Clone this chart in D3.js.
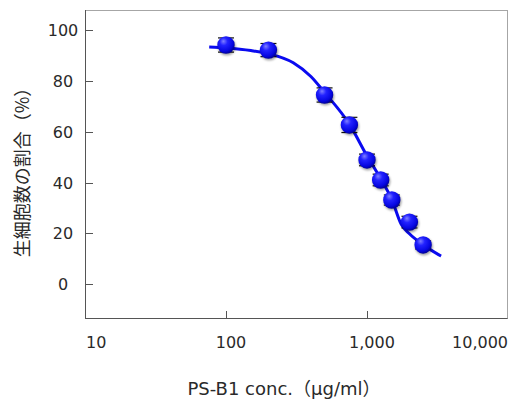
<!DOCTYPE html>
<html>
<head>
<meta charset="utf-8">
<script src="https://cdn.jsdelivr.net/npm/d3@7"></script>
<style>
  body { margin: 0; background: #fff; }
  svg { display: block; }
  .tick-label { font-family: "DejaVu Sans", Verdana, sans-serif; font-size: 16px; fill: #2a2a2a; }
</style>
</head>
<body>
<script>
//cell viability vs PS-B1 concentration (log x axis)

//measured points
var conc = [100, 200, 500, 750, 1000, 1250, 1500, 2000, 2500];
var viability = [94.2, 92.2, 74.5, 62.7, 48.9, 41.0, 33.1, 24.4, 15.4];
var errors = [2.8, 2.6, 2.8, 3.0, 2.3, 2.3, 2.0, 2.3, 1.6];

//fitted curve
var curveConc = [76, 100, 150, 200, 300, 400, 500, 750, 1000, 1250, 1500, 1750, 2000, 2500, 3350];
var curveVal = [93.4, 93.0, 92.0, 90.8, 87.2, 81.8, 75.5, 63.0, 50.5, 41.5, 33.3, 23.5, 19.8, 15.5, 11.0];

//axis ticks
var xTicks = [10, 100, 1000, 10000];
var xTickLabels = ["10", "100", "1,000", "10,000"];
var yTicks = [0, 20, 40, 60, 80, 100];

var w = 515, h = 400;

var svg = d3.select("body")
    .append("svg")
    .attr("width", w)
    .attr("height", h);

var defs = svg.append("defs");

//shiny sphere look for the markers
var grad = defs.append("radialGradient")
    .attr("id", "ball")
    .attr("cx", "40%")
    .attr("cy", "35%")
    .attr("r", "65%")
    .attr("fx", "35%")
    .attr("fy", "28%");
grad.append("stop").attr("offset", "0%").attr("stop-color", "#7f7fff");
grad.append("stop").attr("offset", "35%").attr("stop-color", "#2222ff");
grad.append("stop").attr("offset", "80%").attr("stop-color", "#0606e0");
grad.append("stop").attr("offset", "100%").attr("stop-color", "#00009a");

var shadow = defs.append("filter")
    .attr("id", "shadow")
    .attr("x", "-50%").attr("y", "-50%")
    .attr("width", "200%").attr("height", "200%");
shadow.append("feGaussianBlur").attr("stdDeviation", 1.2);

var x = d3.scaleLog()
    .domain([10, 10000])
    .range([85, 508]);

var y = d3.scaleLinear()
    .domain([-13.4, 108])
    .range([318, 10]);

//plot frame
svg.append("rect")
    .attr("x", 85.5)
    .attr("y", 10.5)
    .attr("width", 422)
    .attr("height", 308)
    .style("fill", "none")
    .style("stroke", "#a6a6a6");

//left and bottom axis lines
svg.append("line")
    .attr("x1", 85.5).attr("x2", 85.5)
    .attr("y1", 10).attr("y2", 318.5)
    .style("stroke", "#555");
svg.append("line")
    .attr("x1", 85).attr("x2", 507.5)
    .attr("y1", 318.5).attr("y2", 318.5)
    .style("stroke", "#555");

//y ticks (inside) and labels
svg.selectAll(".ytick")
    .data(yTicks)
    .enter()
    .append("line")
    .attr("class", "ytick")
    .attr("x1", 85.5).attr("x2", 93)
    .attr("y1", function(d){ return Math.round(y(d)) + 0.5; })
    .attr("y2", function(d){ return Math.round(y(d)) + 0.5; })
    .style("stroke", "#555");

svg.selectAll(".ylab")
    .data(yTicks)
    .enter()
    .append("text")
    .attr("class", "tick-label ylab")
    .attr("text-anchor", "middle")
    .attr("x", 63)
    .attr("y", function(d){ return y(d) + 6; })
    .text(function(d){ return d; });

//x ticks: only the inner decades get a tick mark
svg.selectAll(".xtick")
    .data(xTicks.slice(1, -1))
    .enter()
    .append("line")
    .attr("class", "xtick")
    .attr("x1", function(d){ return Math.round(x(d)) + 0.5; })
    .attr("x2", function(d){ return Math.round(x(d)) + 0.5; })
    .attr("y1", 318).attr("y2", 311)
    .style("stroke", "#555");

svg.selectAll(".xlab")
    .data(xTicks)
    .enter()
    .append("text")
    .attr("class", "tick-label xlab")
    .attr("text-anchor", function(d, i){
        if (i == 0) return "start";
        if (i == xTicks.length - 1) return "end";
        return "middle";
    })
    .attr("x", function(d, i){
        if (i == 0) return x(d) + 1;
        if (i == xTicks.length - 1) return x(d);
        return x(d) + 5;
    })
    .attr("y", 348)
    .text(function(d, i){ return xTickLabels[i]; });

//fitted curve
var curvePts = curveConc.map(function(c, i){ return [x(c), y(curveVal[i])]; });
svg.append("path")
    .datum(curvePts)
    .attr("d", d3.line().curve(d3.curveMonotoneX))
    .style("fill", "none")
    .style("stroke", "#0a0af0")
    .style("stroke-width", 3);

var pts = conc.map(function(c, i){ return { c: c, v: viability[i], e: errors[i] }; });

//error bars
var eb = svg.selectAll(".err")
    .data(pts)
    .enter()
    .append("g")
    .attr("class", "err")
    .style("stroke", "#111")
    .style("stroke-width", 1.2);

eb.append("line")
    .attr("x1", function(d){ return x(d.c); })
    .attr("x2", function(d){ return x(d.c); })
    .attr("y1", function(d){ return y(d.v + d.e); })
    .attr("y2", function(d){ return y(d.v - d.e); });
eb.append("line")
    .attr("x1", function(d){ return x(d.c) - 8; })
    .attr("x2", function(d){ return x(d.c) + 8; })
    .attr("y1", function(d){ return y(d.v + d.e); })
    .attr("y2", function(d){ return y(d.v + d.e); });
eb.append("line")
    .attr("x1", function(d){ return x(d.c) - 8; })
    .attr("x2", function(d){ return x(d.c) + 8; })
    .attr("y1", function(d){ return y(d.v - d.e); })
    .attr("y2", function(d){ return y(d.v - d.e); });

//marker shadows then markers
svg.selectAll(".shadow")
    .data(pts)
    .enter()
    .append("circle")
    .attr("class", "shadow")
    .attr("cx", function(d){ return x(d.c) + 0.8; })
    .attr("cy", function(d){ return y(d.v) + 1.5; })
    .attr("r", 9)
    .attr("filter", "url(#shadow)")
    .style("fill", "rgba(0,0,0,0.35)");

svg.selectAll(".dot")
    .data(pts)
    .enter()
    .append("circle")
    .attr("class", "dot")
    .attr("cx", function(d){ return x(d.c); })
    .attr("cy", function(d){ return y(d.v); })
    .attr("r", 8.7)
    .style("fill", "url(#ball)");

//axis titles
svg.append("text")
    .attr("text-anchor", "middle")
    .attr("x", 284)
    .attr("y", 395)
    .style("font-family", "\"DejaVu Sans\", Verdana, \"Noto Sans CJK JP\", sans-serif")
    .style("font-size", "18px")
    .style("fill", "#2a2a2a")
    .text("PS-B1 conc.（\u03bcg/ml）");

svg.append("text")
    .attr("text-anchor", "middle")
    .attr("transform", "translate(29,168) rotate(-90)")
    .style("font-family", "\"Noto Sans CJK JP\", sans-serif")
    .style("font-size", "18px")
    .style("fill", "#2a2a2a")
    .text("生細胞数の割合（%）");
</script>
</body>
</html>
